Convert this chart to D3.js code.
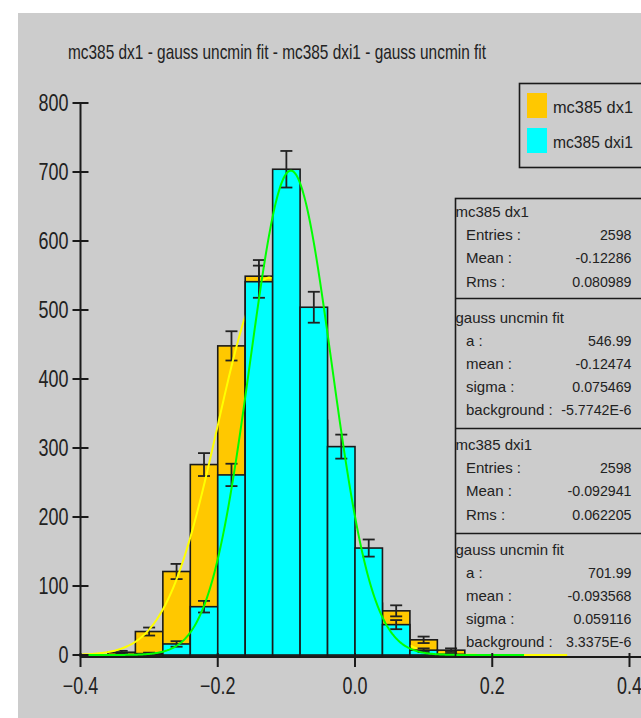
<!DOCTYPE html>
<html>
<head>
<meta charset="utf-8">
<script src="https://cdn.jsdelivr.net/npm/d3@7"></script>
<style>
  html, body { margin: 0; padding: 0; background: #ffffff; }
  svg { display: block; }
  text { font-family: "Liberation Sans", Arial, Helvetica, sans-serif; fill: #222; }
</style>
</head>
<body>
<script>
// ---- data -------------------------------------------------------------
const titleText = "mc385 dx1 - gauss uncmin fit - mc385 dxi1 - gauss uncmin fit";
const binWidth = 0.04;
const binCenters = [-0.38, -0.34, -0.30, -0.26, -0.22, -0.18, -0.14, -0.10, -0.06, -0.02,
                     0.02,  0.06,  0.10,  0.14,  0.18,  0.22,  0.26,  0.30,  0.34,  0.38];
const dx1Counts  = [0, 4, 34, 121, 276, 448, 549, 480, 340, 180, 75, 64, 22, 7, 0, 0, 0, 0, 0, 0];
const dx1Errors  = [0, 2, 5.8, 11, 16.6, 21.2, 23.4, 21.9, 18.4, 13.4, 8.7, 8, 4.7, 2.6, 0, 0, 0, 0, 0, 0];
const dxi1Counts = [0, 1, 2, 16, 70, 261, 541, 704, 504, 302, 155, 44, 7, 1, 0, 0, 0, 0, 0, 0];
const dxi1Errors = [0, 1, 1.4, 4, 8.4, 16.2, 23.3, 26.5, 22.4, 17.4, 12.4, 6.6, 2.6, 1, 0, 0, 0, 0, 0, 0];

// gaussian fit parameters: a, mean, sigma, background
const dx1Fit  = [546.99, -0.12474, 0.075469, -5.7742e-6];
const dxi1Fit = [701.99, -0.093568, 0.059116, 3.3375e-6];

const xTicks = [-0.4, -0.2, 0.0, 0.2, 0.4];
const yTicks = [0, 100, 200, 300, 400, 500, 600, 700, 800];

const legendNames = ["mc385 dx1", "mc385 dxi1"];
const statsDx1  = [["Entries :", "2598"], ["Mean :", "-0.12286"], ["Rms :", "0.080989"]];
const fitDx1    = [["a :", "546.99"], ["mean :", "-0.12474"], ["sigma :", "0.075469"], ["background :", "-5.7742E-6"]];
const statsDxi1 = [["Entries :", "2598"], ["Mean :", "-0.092941"], ["Rms :", "0.062205"]];
const fitDxi1   = [["a :", "701.99"], ["mean :", "-0.093568"], ["sigma :", "0.059116"], ["background :", "3.3375E-6"]];

// ---- colours ----------------------------------------------------------
const panelGray = "#cccccc";
const orange = "#ffc800";
const cyan = "#00ffff";
const yellow = "#ffff00";
const green = "#00ff00";
const ink = "#1a1a1a";

// ---- canvas -----------------------------------------------------------
const W = 641, H = 718;
const svg = d3.select("body").append("svg").attr("width", W).attr("height", H);

svg.append("rect").attr("x", 18).attr("y", 13).attr("width", W - 18).attr("height", H - 13)
   .attr("fill", panelGray);

const x = d3.scaleLinear().domain([-0.4, 0.4]).range([80.5, 629.5]);
const y = d3.scaleLinear().domain([0, 800]).range([655, 103]);

// title
svg.append("text")
   .attr("x", 277).attr("y", 59)
   .attr("text-anchor", "middle")
   .attr("font-size", 21)
   .attr("textLength", 418).attr("lengthAdjust", "spacingAndGlyphs")
   .text(titleText);

// ---- histograms -------------------------------------------------------
function histData(counts, errors) {
  return binCenters.map((c, i) => ({ c, v: counts[i], e: errors[i] })).filter(d => d.v > 0);
}

function drawBars(data, fill) {
  svg.append("g").selectAll("rect").data(data).join("rect")
     .attr("x", d => x(d.c - binWidth / 2))
     .attr("width", d => x(d.c + binWidth / 2) - x(d.c - binWidth / 2))
     .attr("y", d => y(d.v))
     .attr("height", d => y(0) - y(d.v))
     .attr("fill", fill)
     .attr("stroke", ink).attr("stroke-width", 1.6);
}

function drawErrors(data) {
  const g = svg.append("g").attr("stroke", "#222").attr("stroke-width", 1.8);
  const capHalf = 6;
  data.forEach(d => {
    const top = y(d.v + d.e), bot = y(Math.max(0, d.v - d.e)), cx = x(d.c);
    g.append("line").attr("x1", cx).attr("x2", cx).attr("y1", top).attr("y2", bot);
    g.append("line").attr("x1", cx - capHalf).attr("x2", cx + capHalf).attr("y1", top).attr("y2", top);
    g.append("line").attr("x1", cx - capHalf).attr("x2", cx + capHalf).attr("y1", bot).attr("y2", bot);
  });
}

// ---- fitted gaussians -------------------------------------------------
function gaussPath(p) {
  const [a, m, s, b] = p;
  const lo = Math.max(-0.4, m - 5.75 * s), hi = Math.min(0.4, m + 5.75 * s);
  const n = 400;
  const pts = d3.range(n + 1).map(i => {
    const xv = lo + (hi - lo) * i / n;
    return [xv, a * Math.exp(-((xv - m) ** 2) / (2 * s * s)) + b];
  });
  return d3.line().x(d => x(d[0])).y(d => y(d[1]))(pts);
}

function drawFit(p, col) {
  svg.append("path").attr("d", gaussPath(p))
     .attr("fill", "none").attr("stroke", col).attr("stroke-width", 2);
}

// each histogram is drawn with its own errors and fit, the second one on top
const dx1Data = histData(dx1Counts, dx1Errors);
const dxi1Data = histData(dxi1Counts, dxi1Errors);

drawBars(dx1Data, orange);
drawErrors(dx1Data);
drawFit(dx1Fit, yellow);
drawBars(dxi1Data, cyan);
drawErrors(dxi1Data);
drawFit(dxi1Fit, green);

// ---- axes -------------------------------------------------------------
const axisG = svg.append("g").attr("stroke", ink).attr("stroke-width", 2);
axisG.append("line").attr("x1", x(-0.4)).attr("x2", x(-0.4)).attr("y1", y(800)).attr("y2", 657);
axisG.append("line").attr("x1", x(-0.4)).attr("x2", W).attr("y1", 657).attr("y2", 657);

yTicks.forEach(t => {
  axisG.append("line").attr("x1", x(-0.4) - 8).attr("x2", x(-0.4) + 8)
       .attr("y1", y(t)).attr("y2", y(t));
  svg.append("text")
     .attr("transform", `translate(68.5,${y(t) + 8.3}) scale(0.78,1)`)
     .attr("text-anchor", "end").attr("font-size", 23)
     .text(d3.format(".0f")(t));
});

xTicks.forEach(t => {
  axisG.append("line").attr("x1", x(t)).attr("x2", x(t)).attr("y1", 653).attr("y2", 667);
  svg.append("text")
     .attr("transform", `translate(${x(t)},${693.5}) scale(0.78,1)`)
     .attr("text-anchor", "middle").attr("font-size", 23)
     .text(d3.format(".1f")(t));
});

// ---- legend -----------------------------------------------------------
const legend = svg.append("g");
legend.append("rect").attr("x", 519.5).attr("y", 83.5).attr("width", 140).attr("height", 84)
      .attr("fill", "none").attr("stroke", ink).attr("stroke-width", 1.6);
[orange, cyan].forEach((col, i) => {
  legend.append("rect").attr("x", 527).attr("y", 93 + i * 35).attr("width", 20).attr("height", 25)
        .attr("fill", col);
  legend.append("text").attr("x", 553).attr("y", 112.5 + i * 35).attr("font-size", 17)
        .attr("textLength", 80).attr("lengthAdjust", "spacingAndGlyphs")
        .text(legendNames[i]);
});

// ---- statistics box ---------------------------------------------------
const stats = svg.append("g");
const boxL = 455.5, boxR = 660, valR = 631.5, labX = 466;
stats.append("rect").attr("x", boxL).attr("y", 198.5).attr("width", boxR - boxL).attr("height", 657 - 198.5)
     .attr("fill", "none").attr("stroke", ink).attr("stroke-width", 1.6);
[298.5, 428.5, 533.5].forEach(yy => {
  stats.append("line").attr("x1", boxL).attr("x2", boxR).attr("y1", yy).attr("y2", yy)
       .attr("stroke", ink).attr("stroke-width", 1.6);
});

function statSection(titleY, heading, rows) {
  stats.append("text").attr("x", boxL).attr("y", titleY).attr("font-size", 15).text(heading);
  rows.forEach((r, i) => {
    const by = titleY + 23.2 * (i + 1);
    stats.append("text").attr("x", labX).attr("y", by).attr("font-size", 15).text(r[0]);
    stats.append("text").attr("x", valR).attr("y", by).attr("font-size", 14.2)
         .attr("text-anchor", "end").text(r[1]);
  });
}
statSection(217, legendNames[0], statsDx1);
statSection(322.5, "gauss uncmin fit", fitDx1);
statSection(450, legendNames[1], statsDxi1);
statSection(554.5, "gauss uncmin fit", fitDxi1);
</script>
</body>
</html>
